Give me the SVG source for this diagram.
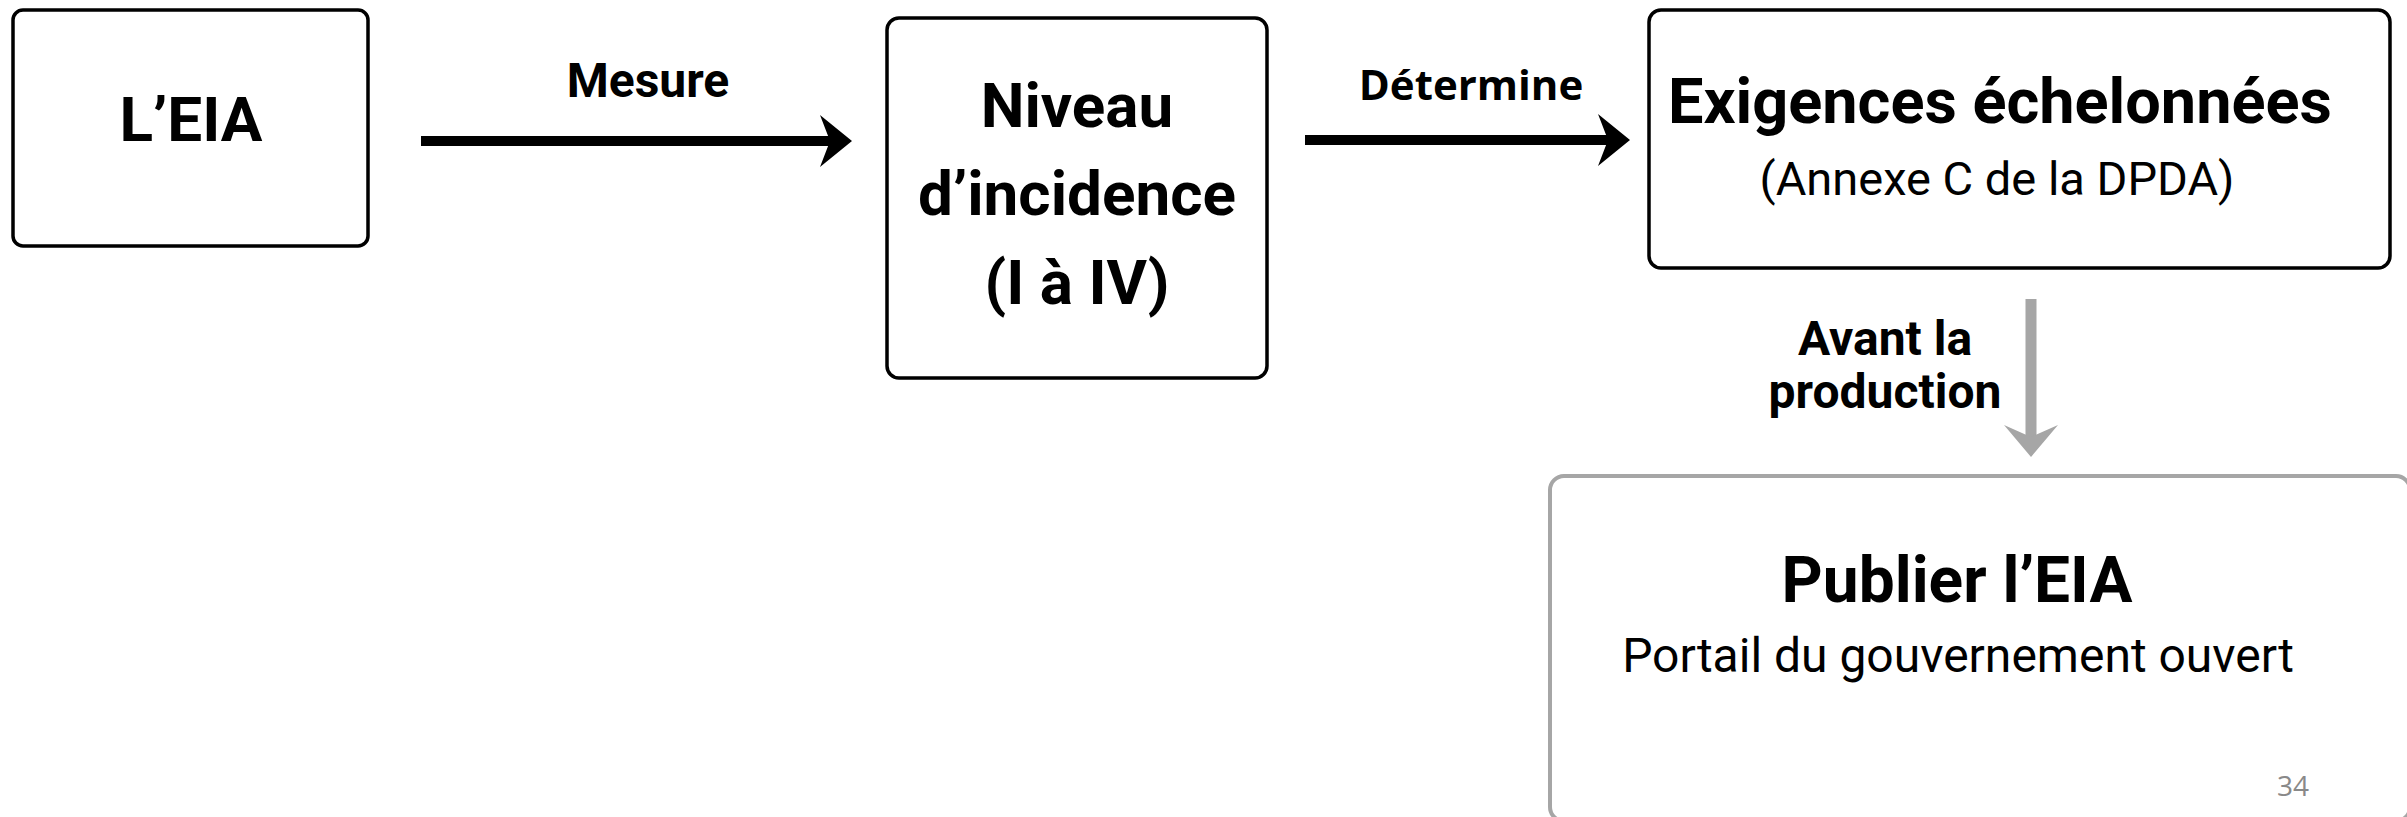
<svg xmlns="http://www.w3.org/2000/svg" width="2407" height="817" viewBox="0 0 2407 817">
<style>
.box{fill:#fff;stroke:#000;stroke-width:3.5}
.gbox{fill:#fff;stroke:#A6A6A6;stroke-width:4}
.t{font-family:Roboto,"Liberation Sans",sans-serif;fill:#000;text-anchor:middle}
.b{font-weight:700}
.shaft{stroke:#000;stroke-width:10;fill:none}
.head{fill:#000}
</style>
<rect width="2407" height="817" fill="#fff"/>
<g id="connectors">
<g id="c-mesure">
<line class="shaft" x1="421" y1="141" x2="832" y2="141"/>
<path class="head" d="M852,141 L820,115 L830,141 L820,167 Z"/>
<text class="t b" x="648" y="97" font-size="48">Mesure</text>
</g>
<g id="c-determine">
<line class="shaft" x1="1305" y1="140" x2="1609" y2="140"/>
<path class="head" d="M1630,140 L1598,114 L1608,140 L1598,166 Z"/>
<text x="1471" y="100" font-size="42" font-family="'Open Sans','Liberation Sans',sans-serif" font-weight="700" text-anchor="middle" fill="#000">Détermine</text>
</g>
<g id="c-avant">
<line x1="2031" y1="299" x2="2031" y2="440" stroke="#A6A6A6" stroke-width="11"/>
<path d="M2031,457 L2004,425 L2031,437 L2058,425 Z" fill="#A6A6A6"/>
<text class="t b" x="1885" y="355" font-size="48">Avant la</text>
<text class="t b" x="1885" y="408" font-size="48">production</text>
</g>
</g>
<g id="n-eia">
<rect class="box" x="13" y="10" width="355" height="236" rx="10"/>
<text class="t b" x="191" y="141" font-size="62">L’EIA</text>
</g>
<g id="n-niveau">
<rect class="box" x="887" y="18" width="380" height="360" rx="12"/>
<text class="t b" x="1077" y="127" font-size="62">Niveau</text>
<text class="t b" x="1077" y="215" font-size="62">d’incidence</text>
<text class="t b" x="1077" y="304" font-size="62">(I à IV)</text>
</g>
<g id="n-exigences">
<rect class="box" x="1649" y="10" width="741" height="258" rx="12"/>
<text class="t b" x="2000" y="123" font-size="63">Exigences échelonnées</text>
<text class="t" x="1997" y="195" font-size="47">(Annexe C de la DPDA)</text>
</g>
<g id="n-publier">
<rect class="gbox" x="1550" y="476" width="860" height="345" rx="14"/>
<text class="t b" x="1957" y="602" font-size="64">Publier l’EIA</text>
<text class="t" x="1958" y="672" font-size="48">Portail du gouvernement ouvert</text>
</g>
<text x="2293" y="796" font-size="28" font-family="'Open Sans','Liberation Sans',sans-serif" fill="#898989" text-anchor="middle">34</text>
</svg>
